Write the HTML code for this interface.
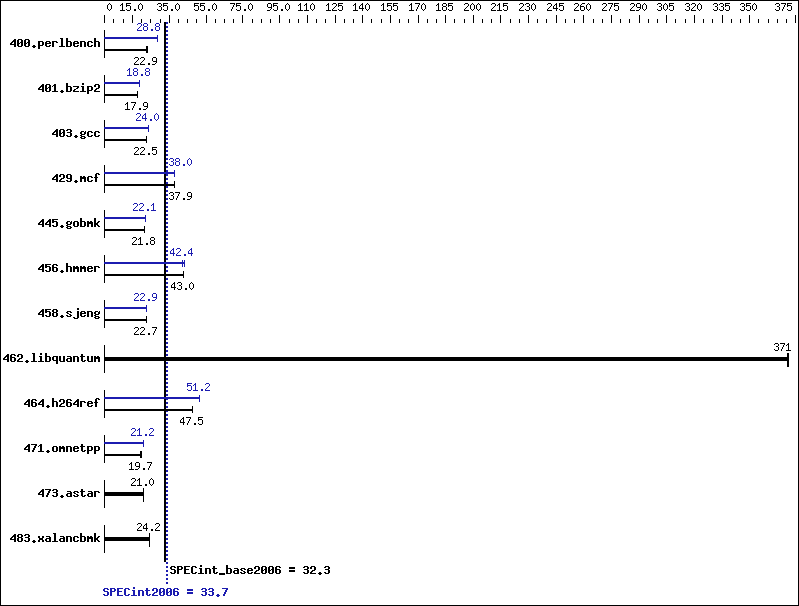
<!DOCTYPE html>
<html><head><meta charset="utf-8"><style>html,body{margin:0;padding:0;background:#fff;}svg{display:block;}</style></head>
<body><svg width="799" height="606" viewBox="0 0 799 606" shape-rendering="crispEdges">
<rect width="799" height="606" fill="#fff"/>
<defs><path id="s48" d="M2 3h1v1h-1zM1 4h1v1h-1zM3 4h1v1h-1zM0 5h1v1h-1zM4 5h1v1h-1zM0 6h1v1h-1zM4 6h1v1h-1zM0 7h1v1h-1zM4 7h1v1h-1zM0 8h1v1h-1zM4 8h1v1h-1zM1 9h1v1h-1zM3 9h1v1h-1zM2 10h1v1h-1z"/><path id="s49" d="M2 3h1v1h-1zM1 4h2v1h-2zM0 5h1v1h-1zM2 5h1v1h-1zM2 6h1v1h-1zM2 7h1v1h-1zM2 8h1v1h-1zM2 9h1v1h-1zM0 10h5v1h-5z"/><path id="s53" d="M0 3h5v1h-5zM0 4h1v1h-1zM0 5h4v1h-4zM0 6h1v1h-1zM4 6h1v1h-1zM4 7h1v1h-1zM4 8h1v1h-1zM0 9h1v1h-1zM4 9h1v1h-1zM1 10h3v1h-3z"/><path id="s46" d="M2 9h2v1h-2zM2 10h2v1h-2z"/><path id="s51" d="M1 3h3v1h-3zM0 4h1v1h-1zM4 4h1v1h-1zM4 5h1v1h-1zM2 6h2v1h-2zM4 7h1v1h-1zM4 8h1v1h-1zM0 9h1v1h-1zM4 9h1v1h-1zM1 10h3v1h-3z"/><path id="s55" d="M0 3h5v1h-5zM4 4h1v1h-1zM3 5h1v1h-1zM3 6h1v1h-1zM2 7h1v1h-1zM2 8h1v1h-1zM1 9h1v1h-1zM1 10h1v1h-1z"/><path id="s57" d="M1 3h3v1h-3zM0 4h1v1h-1zM4 4h1v1h-1zM0 5h1v1h-1zM4 5h1v1h-1zM0 6h1v1h-1zM4 6h1v1h-1zM1 7h4v1h-4zM4 8h1v1h-1zM3 9h1v1h-1zM0 10h3v1h-3z"/><path id="s50" d="M1 3h3v1h-3zM0 4h1v1h-1zM4 4h1v1h-1zM4 5h1v1h-1zM3 6h1v1h-1zM2 7h1v1h-1zM1 8h1v1h-1zM0 9h1v1h-1zM0 10h5v1h-5z"/><path id="s52" d="M3 3h1v1h-1zM2 4h2v1h-2zM1 5h1v1h-1zM3 5h1v1h-1zM0 6h1v1h-1zM3 6h1v1h-1zM0 7h1v1h-1zM3 7h1v1h-1zM0 8h5v1h-5zM3 9h1v1h-1zM3 10h1v1h-1z"/><path id="s56" d="M1 3h3v1h-3zM0 4h1v1h-1zM4 4h1v1h-1zM0 5h1v1h-1zM4 5h1v1h-1zM1 6h3v1h-3zM0 7h1v1h-1zM4 7h1v1h-1zM0 8h1v1h-1zM4 8h1v1h-1zM0 9h1v1h-1zM4 9h1v1h-1zM1 10h3v1h-3z"/><path id="s54" d="M2 3h3v1h-3zM1 4h1v1h-1zM0 5h1v1h-1zM0 6h4v1h-4zM0 7h1v1h-1zM4 7h1v1h-1zM0 8h1v1h-1zM4 8h1v1h-1zM0 9h1v1h-1zM4 9h1v1h-1zM1 10h3v1h-3z"/><path id="b52" d="M4 3h2v1h-2zM3 4h3v1h-3zM2 5h4v1h-4zM1 6h2v1h-2zM4 6h2v1h-2zM0 7h2v1h-2zM4 7h2v1h-2zM0 8h6v1h-6zM4 9h2v1h-2zM4 10h2v1h-2z"/><path id="b48" d="M1 3h4v1h-4zM0 4h2v1h-2zM4 4h2v1h-2zM0 5h2v1h-2zM4 5h2v1h-2zM0 6h2v1h-2zM3 6h3v1h-3zM0 7h3v1h-3zM4 7h2v1h-2zM0 8h2v1h-2zM4 8h2v1h-2zM0 9h2v1h-2zM4 9h2v1h-2zM1 10h4v1h-4z"/><path id="b46" d="M2 9h2v1h-2zM1 10h4v1h-4zM2 11h2v1h-2z"/><path id="b112" d="M0 5h5v1h-5zM0 6h2v1h-2zM4 6h2v1h-2zM0 7h2v1h-2zM4 7h2v1h-2zM0 8h2v1h-2zM4 8h2v1h-2zM0 9h5v1h-5zM0 10h2v1h-2zM0 11h2v1h-2zM0 12h2v1h-2z"/><path id="b101" d="M1 5h4v1h-4zM0 6h2v1h-2zM4 6h2v1h-2zM0 7h6v1h-6zM0 8h2v1h-2zM0 9h2v1h-2zM4 9h2v1h-2zM1 10h4v1h-4z"/><path id="b114" d="M0 5h5v1h-5zM0 6h2v1h-2zM4 6h2v1h-2zM0 7h2v1h-2zM0 8h2v1h-2zM0 9h2v1h-2zM0 10h2v1h-2z"/><path id="b108" d="M1 2h3v1h-3zM2 3h2v1h-2zM2 4h2v1h-2zM2 5h2v1h-2zM2 6h2v1h-2zM2 7h2v1h-2zM2 8h2v1h-2zM2 9h2v1h-2zM0 10h6v1h-6z"/><path id="b98" d="M0 2h2v1h-2zM0 3h2v1h-2zM0 4h2v1h-2zM0 5h5v1h-5zM0 6h2v1h-2zM4 6h2v1h-2zM0 7h2v1h-2zM4 7h2v1h-2zM0 8h2v1h-2zM4 8h2v1h-2zM0 9h2v1h-2zM4 9h2v1h-2zM0 10h5v1h-5z"/><path id="b110" d="M0 5h5v1h-5zM0 6h2v1h-2zM4 6h2v1h-2zM0 7h2v1h-2zM4 7h2v1h-2zM0 8h2v1h-2zM4 8h2v1h-2zM0 9h2v1h-2zM4 9h2v1h-2zM0 10h2v1h-2zM4 10h2v1h-2z"/><path id="b99" d="M1 5h4v1h-4zM0 6h2v1h-2zM4 6h2v1h-2zM0 7h2v1h-2zM0 8h2v1h-2zM0 9h2v1h-2zM4 9h2v1h-2zM1 10h4v1h-4z"/><path id="b104" d="M0 2h2v1h-2zM0 3h2v1h-2zM0 4h2v1h-2zM0 5h5v1h-5zM0 6h2v1h-2zM4 6h2v1h-2zM0 7h2v1h-2zM4 7h2v1h-2zM0 8h2v1h-2zM4 8h2v1h-2zM0 9h2v1h-2zM4 9h2v1h-2zM0 10h2v1h-2zM4 10h2v1h-2z"/><path id="b49" d="M2 3h2v1h-2zM1 4h3v1h-3zM0 5h1v1h-1zM2 5h2v1h-2zM2 6h2v1h-2zM2 7h2v1h-2zM2 8h2v1h-2zM2 9h2v1h-2zM0 10h6v1h-6z"/><path id="b122" d="M0 5h6v1h-6zM4 6h2v1h-2zM3 7h2v1h-2zM1 8h2v1h-2zM0 9h2v1h-2zM0 10h6v1h-6z"/><path id="b105" d="M2 2h2v1h-2zM2 3h2v1h-2zM1 5h3v1h-3zM2 6h2v1h-2zM2 7h2v1h-2zM2 8h2v1h-2zM2 9h2v1h-2zM0 10h6v1h-6z"/><path id="b50" d="M1 3h4v1h-4zM0 4h2v1h-2zM4 4h2v1h-2zM0 5h2v1h-2zM4 5h2v1h-2zM4 6h2v1h-2zM2 7h3v1h-3zM1 8h2v1h-2zM0 9h2v1h-2zM0 10h6v1h-6z"/><path id="b51" d="M1 3h4v1h-4zM0 4h2v1h-2zM4 4h2v1h-2zM4 5h2v1h-2zM1 6h4v1h-4zM4 7h2v1h-2zM4 8h2v1h-2zM0 9h2v1h-2zM4 9h2v1h-2zM1 10h4v1h-4z"/><path id="b103" d="M1 5h3v1h-3zM5 5h1v1h-1zM0 6h2v1h-2zM4 6h2v1h-2zM0 7h2v1h-2zM4 7h2v1h-2zM1 8h4v1h-4zM0 9h2v1h-2zM1 10h4v1h-4zM0 11h2v1h-2zM4 11h2v1h-2zM1 12h4v1h-4z"/><path id="b57" d="M1 3h4v1h-4zM0 4h2v1h-2zM4 4h2v1h-2zM0 5h2v1h-2zM4 5h2v1h-2zM0 6h2v1h-2zM4 6h2v1h-2zM1 7h5v1h-5zM4 8h2v1h-2zM0 9h2v1h-2zM4 9h2v1h-2zM1 10h4v1h-4z"/><path id="b109" d="M0 5h2v1h-2zM3 5h2v1h-2zM0 6h6v1h-6zM0 7h6v1h-6zM0 8h2v1h-2zM4 8h2v1h-2zM0 9h2v1h-2zM4 9h2v1h-2zM0 10h2v1h-2zM4 10h2v1h-2z"/><path id="b102" d="M2 2h3v1h-3zM1 3h2v1h-2zM4 3h2v1h-2zM1 4h2v1h-2zM1 5h2v1h-2zM0 6h4v1h-4zM1 7h2v1h-2zM1 8h2v1h-2zM1 9h2v1h-2zM1 10h2v1h-2z"/><path id="b53" d="M0 3h6v1h-6zM0 4h2v1h-2zM0 5h5v1h-5zM0 6h2v1h-2zM4 6h2v1h-2zM4 7h2v1h-2zM4 8h2v1h-2zM0 9h2v1h-2zM4 9h2v1h-2zM1 10h4v1h-4z"/><path id="b111" d="M1 5h4v1h-4zM0 6h2v1h-2zM4 6h2v1h-2zM0 7h2v1h-2zM4 7h2v1h-2zM0 8h2v1h-2zM4 8h2v1h-2zM0 9h2v1h-2zM4 9h2v1h-2zM1 10h4v1h-4z"/><path id="b107" d="M0 2h2v1h-2zM0 3h2v1h-2zM0 4h2v1h-2zM0 5h2v1h-2zM4 5h2v1h-2zM0 6h2v1h-2zM3 6h2v1h-2zM0 7h4v1h-4zM0 8h4v1h-4zM0 9h2v1h-2zM3 9h2v1h-2zM0 10h2v1h-2zM4 10h2v1h-2z"/><path id="b54" d="M1 3h4v1h-4zM0 4h2v1h-2zM4 4h2v1h-2zM0 5h2v1h-2zM0 6h5v1h-5zM0 7h2v1h-2zM4 7h2v1h-2zM0 8h2v1h-2zM4 8h2v1h-2zM0 9h2v1h-2zM4 9h2v1h-2zM1 10h4v1h-4z"/><path id="b56" d="M1 3h4v1h-4zM0 4h2v1h-2zM4 4h2v1h-2zM0 5h2v1h-2zM4 5h2v1h-2zM1 6h4v1h-4zM0 7h2v1h-2zM4 7h2v1h-2zM0 8h2v1h-2zM4 8h2v1h-2zM0 9h2v1h-2zM4 9h2v1h-2zM1 10h4v1h-4z"/><path id="b115" d="M1 5h4v1h-4zM0 6h2v1h-2zM4 6h2v1h-2zM1 7h2v1h-2zM3 8h2v1h-2zM0 9h2v1h-2zM4 9h2v1h-2zM1 10h4v1h-4z"/><path id="b106" d="M4 2h2v1h-2zM4 3h2v1h-2zM4 5h2v1h-2zM4 6h2v1h-2zM4 7h2v1h-2zM4 8h2v1h-2zM4 9h2v1h-2zM4 10h2v1h-2zM0 11h2v1h-2zM4 11h2v1h-2zM1 12h4v1h-4z"/><path id="b113" d="M1 5h5v1h-5zM0 6h2v1h-2zM4 6h2v1h-2zM0 7h2v1h-2zM4 7h2v1h-2zM0 8h2v1h-2zM4 8h2v1h-2zM1 9h5v1h-5zM4 10h2v1h-2zM4 11h2v1h-2zM4 12h2v1h-2z"/><path id="b117" d="M0 5h2v1h-2zM4 5h2v1h-2zM0 6h2v1h-2zM4 6h2v1h-2zM0 7h2v1h-2zM4 7h2v1h-2zM0 8h2v1h-2zM4 8h2v1h-2zM0 9h2v1h-2zM4 9h2v1h-2zM1 10h5v1h-5z"/><path id="b97" d="M1 5h4v1h-4zM4 6h2v1h-2zM1 7h5v1h-5zM0 8h2v1h-2zM4 8h2v1h-2zM0 9h2v1h-2zM4 9h2v1h-2zM1 10h5v1h-5z"/><path id="b116" d="M1 3h2v1h-2zM1 4h2v1h-2zM0 5h5v1h-5zM1 6h2v1h-2zM1 7h2v1h-2zM1 8h2v1h-2zM1 9h2v1h-2zM4 9h2v1h-2zM2 10h3v1h-3z"/><path id="b55" d="M0 3h6v1h-6zM4 4h2v1h-2zM3 5h2v1h-2zM3 6h2v1h-2zM2 7h2v1h-2zM2 8h2v1h-2zM1 9h2v1h-2zM1 10h2v1h-2z"/><path id="b120" d="M0 5h2v1h-2zM4 5h2v1h-2zM0 6h2v1h-2zM4 6h2v1h-2zM1 7h4v1h-4zM1 8h4v1h-4zM0 9h2v1h-2zM4 9h2v1h-2zM0 10h2v1h-2zM4 10h2v1h-2z"/><path id="b83" d="M1 3h4v1h-4zM0 4h2v1h-2zM4 4h2v1h-2zM0 5h2v1h-2zM1 6h4v1h-4zM4 7h2v1h-2zM4 8h2v1h-2zM0 9h2v1h-2zM4 9h2v1h-2zM1 10h4v1h-4z"/><path id="b80" d="M0 3h5v1h-5zM0 4h2v1h-2zM4 4h2v1h-2zM0 5h2v1h-2zM4 5h2v1h-2zM0 6h5v1h-5zM0 7h2v1h-2zM0 8h2v1h-2zM0 9h2v1h-2zM0 10h2v1h-2z"/><path id="b69" d="M0 3h6v1h-6zM0 4h2v1h-2zM0 5h2v1h-2zM0 6h5v1h-5zM0 7h2v1h-2zM0 8h2v1h-2zM0 9h2v1h-2zM0 10h6v1h-6z"/><path id="b67" d="M1 3h4v1h-4zM0 4h2v1h-2zM4 4h2v1h-2zM0 5h2v1h-2zM0 6h2v1h-2zM0 7h2v1h-2zM0 8h2v1h-2zM0 9h2v1h-2zM4 9h2v1h-2zM1 10h4v1h-4z"/><path id="b95" d="M0 10h6v1h-6zM0 11h6v1h-6z"/><path id="b61" d="M0 4h6v1h-6zM0 5h6v1h-6zM0 7h6v1h-6zM0 8h6v1h-6z"/></defs>
<rect x="0" y="0" width="799" height="1" fill="#000"/><rect x="0" y="605" width="799" height="1" fill="#000"/><rect x="0" y="0" width="1" height="606" fill="#000"/><rect x="798" y="0" width="1" height="606" fill="#000"/><rect x="104" y="15" width="1" height="8" fill="#000"/><rect x="113" y="19" width="1" height="4" fill="#000"/><rect x="123" y="19" width="1" height="4" fill="#000"/><rect x="132" y="15" width="1" height="8" fill="#000"/><rect x="141" y="19" width="1" height="4" fill="#000"/><rect x="150" y="19" width="1" height="4" fill="#000"/><rect x="160" y="19" width="1" height="4" fill="#000"/><rect x="169" y="15" width="1" height="8" fill="#000"/><rect x="178" y="19" width="1" height="4" fill="#000"/><rect x="187" y="19" width="1" height="4" fill="#000"/><rect x="196" y="19" width="1" height="4" fill="#000"/><rect x="206" y="15" width="1" height="8" fill="#000"/><rect x="215" y="19" width="1" height="4" fill="#000"/><rect x="224" y="19" width="1" height="4" fill="#000"/><rect x="233" y="19" width="1" height="4" fill="#000"/><rect x="242" y="15" width="1" height="8" fill="#000"/><rect x="252" y="19" width="1" height="4" fill="#000"/><rect x="261" y="19" width="1" height="4" fill="#000"/><rect x="270" y="19" width="1" height="4" fill="#000"/><rect x="279" y="15" width="1" height="8" fill="#000"/><rect x="289" y="19" width="1" height="4" fill="#000"/><rect x="298" y="19" width="1" height="4" fill="#000"/><rect x="307" y="15" width="1" height="8" fill="#000"/><rect x="316" y="19" width="1" height="4" fill="#000"/><rect x="325" y="19" width="1" height="4" fill="#000"/><rect x="335" y="15" width="1" height="8" fill="#000"/><rect x="344" y="19" width="1" height="4" fill="#000"/><rect x="353" y="19" width="1" height="4" fill="#000"/><rect x="362" y="15" width="1" height="8" fill="#000"/><rect x="371" y="19" width="1" height="4" fill="#000"/><rect x="381" y="19" width="1" height="4" fill="#000"/><rect x="390" y="15" width="1" height="8" fill="#000"/><rect x="399" y="19" width="1" height="4" fill="#000"/><rect x="408" y="19" width="1" height="4" fill="#000"/><rect x="418" y="15" width="1" height="8" fill="#000"/><rect x="427" y="19" width="1" height="4" fill="#000"/><rect x="436" y="19" width="1" height="4" fill="#000"/><rect x="445" y="15" width="1" height="8" fill="#000"/><rect x="454" y="19" width="1" height="4" fill="#000"/><rect x="464" y="19" width="1" height="4" fill="#000"/><rect x="473" y="15" width="1" height="8" fill="#000"/><rect x="482" y="19" width="1" height="4" fill="#000"/><rect x="491" y="19" width="1" height="4" fill="#000"/><rect x="500" y="15" width="1" height="8" fill="#000"/><rect x="510" y="19" width="1" height="4" fill="#000"/><rect x="519" y="19" width="1" height="4" fill="#000"/><rect x="528" y="15" width="1" height="8" fill="#000"/><rect x="537" y="19" width="1" height="4" fill="#000"/><rect x="546" y="19" width="1" height="4" fill="#000"/><rect x="556" y="15" width="1" height="8" fill="#000"/><rect x="565" y="19" width="1" height="4" fill="#000"/><rect x="574" y="19" width="1" height="4" fill="#000"/><rect x="583" y="15" width="1" height="8" fill="#000"/><rect x="593" y="19" width="1" height="4" fill="#000"/><rect x="602" y="19" width="1" height="4" fill="#000"/><rect x="611" y="15" width="1" height="8" fill="#000"/><rect x="620" y="19" width="1" height="4" fill="#000"/><rect x="629" y="19" width="1" height="4" fill="#000"/><rect x="639" y="15" width="1" height="8" fill="#000"/><rect x="648" y="19" width="1" height="4" fill="#000"/><rect x="657" y="19" width="1" height="4" fill="#000"/><rect x="666" y="15" width="1" height="8" fill="#000"/><rect x="675" y="19" width="1" height="4" fill="#000"/><rect x="685" y="19" width="1" height="4" fill="#000"/><rect x="694" y="15" width="1" height="8" fill="#000"/><rect x="703" y="19" width="1" height="4" fill="#000"/><rect x="712" y="19" width="1" height="4" fill="#000"/><rect x="722" y="15" width="1" height="8" fill="#000"/><rect x="731" y="19" width="1" height="4" fill="#000"/><rect x="740" y="19" width="1" height="4" fill="#000"/><rect x="749" y="15" width="1" height="8" fill="#000"/><rect x="758" y="19" width="1" height="4" fill="#000"/><rect x="768" y="19" width="1" height="4" fill="#000"/><rect x="777" y="19" width="1" height="4" fill="#000"/><rect x="786" y="19" width="1" height="4" fill="#000"/><rect x="795" y="15" width="1" height="8" fill="#000"/><use href="#s48" x="107" y="0" fill="#000"/><use href="#s49" x="120" y="0" fill="#000"/><use href="#s53" x="126" y="0" fill="#000"/><use href="#s46" x="132" y="0" fill="#000"/><use href="#s48" x="138" y="0" fill="#000"/><use href="#s51" x="157" y="0" fill="#000"/><use href="#s53" x="163" y="0" fill="#000"/><use href="#s46" x="169" y="0" fill="#000"/><use href="#s48" x="175" y="0" fill="#000"/><use href="#s53" x="194" y="0" fill="#000"/><use href="#s53" x="200" y="0" fill="#000"/><use href="#s46" x="206" y="0" fill="#000"/><use href="#s48" x="212" y="0" fill="#000"/><use href="#s55" x="230" y="0" fill="#000"/><use href="#s53" x="236" y="0" fill="#000"/><use href="#s46" x="242" y="0" fill="#000"/><use href="#s48" x="248" y="0" fill="#000"/><use href="#s57" x="267" y="0" fill="#000"/><use href="#s53" x="273" y="0" fill="#000"/><use href="#s46" x="279" y="0" fill="#000"/><use href="#s48" x="285" y="0" fill="#000"/><use href="#s49" x="298" y="0" fill="#000"/><use href="#s49" x="304" y="0" fill="#000"/><use href="#s48" x="310" y="0" fill="#000"/><use href="#s49" x="326" y="0" fill="#000"/><use href="#s50" x="332" y="0" fill="#000"/><use href="#s53" x="338" y="0" fill="#000"/><use href="#s49" x="353" y="0" fill="#000"/><use href="#s52" x="359" y="0" fill="#000"/><use href="#s48" x="365" y="0" fill="#000"/><use href="#s49" x="381" y="0" fill="#000"/><use href="#s53" x="387" y="0" fill="#000"/><use href="#s53" x="393" y="0" fill="#000"/><use href="#s49" x="409" y="0" fill="#000"/><use href="#s55" x="415" y="0" fill="#000"/><use href="#s48" x="421" y="0" fill="#000"/><use href="#s49" x="436" y="0" fill="#000"/><use href="#s56" x="442" y="0" fill="#000"/><use href="#s53" x="448" y="0" fill="#000"/><use href="#s50" x="464" y="0" fill="#000"/><use href="#s48" x="470" y="0" fill="#000"/><use href="#s48" x="476" y="0" fill="#000"/><use href="#s50" x="491" y="0" fill="#000"/><use href="#s49" x="497" y="0" fill="#000"/><use href="#s53" x="503" y="0" fill="#000"/><use href="#s50" x="519" y="0" fill="#000"/><use href="#s51" x="525" y="0" fill="#000"/><use href="#s48" x="531" y="0" fill="#000"/><use href="#s50" x="547" y="0" fill="#000"/><use href="#s52" x="553" y="0" fill="#000"/><use href="#s53" x="559" y="0" fill="#000"/><use href="#s50" x="574" y="0" fill="#000"/><use href="#s54" x="580" y="0" fill="#000"/><use href="#s48" x="586" y="0" fill="#000"/><use href="#s50" x="602" y="0" fill="#000"/><use href="#s55" x="608" y="0" fill="#000"/><use href="#s53" x="614" y="0" fill="#000"/><use href="#s50" x="630" y="0" fill="#000"/><use href="#s57" x="636" y="0" fill="#000"/><use href="#s48" x="642" y="0" fill="#000"/><use href="#s51" x="657" y="0" fill="#000"/><use href="#s48" x="663" y="0" fill="#000"/><use href="#s53" x="669" y="0" fill="#000"/><use href="#s51" x="685" y="0" fill="#000"/><use href="#s50" x="691" y="0" fill="#000"/><use href="#s48" x="697" y="0" fill="#000"/><use href="#s51" x="713" y="0" fill="#000"/><use href="#s51" x="719" y="0" fill="#000"/><use href="#s53" x="725" y="0" fill="#000"/><use href="#s51" x="740" y="0" fill="#000"/><use href="#s53" x="746" y="0" fill="#000"/><use href="#s48" x="752" y="0" fill="#000"/><use href="#s51" x="775" y="0" fill="#000"/><use href="#s55" x="781" y="0" fill="#000"/><use href="#s53" x="787" y="0" fill="#000"/><rect x="166" y="22" width="2" height="2" fill="#1c1cb0"/><rect x="166" y="26" width="2" height="2" fill="#1c1cb0"/><rect x="166" y="30" width="2" height="2" fill="#1c1cb0"/><rect x="166" y="34" width="2" height="2" fill="#1c1cb0"/><rect x="166" y="38" width="2" height="2" fill="#1c1cb0"/><rect x="166" y="42" width="2" height="2" fill="#1c1cb0"/><rect x="166" y="46" width="2" height="2" fill="#1c1cb0"/><rect x="166" y="50" width="2" height="2" fill="#1c1cb0"/><rect x="166" y="54" width="2" height="2" fill="#1c1cb0"/><rect x="166" y="58" width="2" height="2" fill="#1c1cb0"/><rect x="166" y="62" width="2" height="2" fill="#1c1cb0"/><rect x="166" y="66" width="2" height="2" fill="#1c1cb0"/><rect x="166" y="70" width="2" height="2" fill="#1c1cb0"/><rect x="166" y="74" width="2" height="2" fill="#1c1cb0"/><rect x="166" y="78" width="2" height="2" fill="#1c1cb0"/><rect x="166" y="82" width="2" height="2" fill="#1c1cb0"/><rect x="166" y="86" width="2" height="2" fill="#1c1cb0"/><rect x="166" y="90" width="2" height="2" fill="#1c1cb0"/><rect x="166" y="94" width="2" height="2" fill="#1c1cb0"/><rect x="166" y="98" width="2" height="2" fill="#1c1cb0"/><rect x="166" y="102" width="2" height="2" fill="#1c1cb0"/><rect x="166" y="106" width="2" height="2" fill="#1c1cb0"/><rect x="166" y="110" width="2" height="2" fill="#1c1cb0"/><rect x="166" y="114" width="2" height="2" fill="#1c1cb0"/><rect x="166" y="118" width="2" height="2" fill="#1c1cb0"/><rect x="166" y="122" width="2" height="2" fill="#1c1cb0"/><rect x="166" y="126" width="2" height="2" fill="#1c1cb0"/><rect x="166" y="130" width="2" height="2" fill="#1c1cb0"/><rect x="166" y="134" width="2" height="2" fill="#1c1cb0"/><rect x="166" y="138" width="2" height="2" fill="#1c1cb0"/><rect x="166" y="142" width="2" height="2" fill="#1c1cb0"/><rect x="166" y="146" width="2" height="2" fill="#1c1cb0"/><rect x="166" y="150" width="2" height="2" fill="#1c1cb0"/><rect x="166" y="154" width="2" height="2" fill="#1c1cb0"/><rect x="166" y="158" width="2" height="2" fill="#1c1cb0"/><rect x="166" y="162" width="2" height="2" fill="#1c1cb0"/><rect x="166" y="166" width="2" height="2" fill="#1c1cb0"/><rect x="166" y="170" width="2" height="2" fill="#1c1cb0"/><rect x="166" y="174" width="2" height="2" fill="#1c1cb0"/><rect x="166" y="178" width="2" height="2" fill="#1c1cb0"/><rect x="166" y="182" width="2" height="2" fill="#1c1cb0"/><rect x="166" y="186" width="2" height="2" fill="#1c1cb0"/><rect x="166" y="190" width="2" height="2" fill="#1c1cb0"/><rect x="166" y="194" width="2" height="2" fill="#1c1cb0"/><rect x="166" y="198" width="2" height="2" fill="#1c1cb0"/><rect x="166" y="202" width="2" height="2" fill="#1c1cb0"/><rect x="166" y="206" width="2" height="2" fill="#1c1cb0"/><rect x="166" y="210" width="2" height="2" fill="#1c1cb0"/><rect x="166" y="214" width="2" height="2" fill="#1c1cb0"/><rect x="166" y="218" width="2" height="2" fill="#1c1cb0"/><rect x="166" y="222" width="2" height="2" fill="#1c1cb0"/><rect x="166" y="226" width="2" height="2" fill="#1c1cb0"/><rect x="166" y="230" width="2" height="2" fill="#1c1cb0"/><rect x="166" y="234" width="2" height="2" fill="#1c1cb0"/><rect x="166" y="238" width="2" height="2" fill="#1c1cb0"/><rect x="166" y="242" width="2" height="2" fill="#1c1cb0"/><rect x="166" y="246" width="2" height="2" fill="#1c1cb0"/><rect x="166" y="250" width="2" height="2" fill="#1c1cb0"/><rect x="166" y="254" width="2" height="2" fill="#1c1cb0"/><rect x="166" y="258" width="2" height="2" fill="#1c1cb0"/><rect x="166" y="262" width="2" height="2" fill="#1c1cb0"/><rect x="166" y="266" width="2" height="2" fill="#1c1cb0"/><rect x="166" y="270" width="2" height="2" fill="#1c1cb0"/><rect x="166" y="274" width="2" height="2" fill="#1c1cb0"/><rect x="166" y="278" width="2" height="2" fill="#1c1cb0"/><rect x="166" y="282" width="2" height="2" fill="#1c1cb0"/><rect x="166" y="286" width="2" height="2" fill="#1c1cb0"/><rect x="166" y="290" width="2" height="2" fill="#1c1cb0"/><rect x="166" y="294" width="2" height="2" fill="#1c1cb0"/><rect x="166" y="298" width="2" height="2" fill="#1c1cb0"/><rect x="166" y="302" width="2" height="2" fill="#1c1cb0"/><rect x="166" y="306" width="2" height="2" fill="#1c1cb0"/><rect x="166" y="310" width="2" height="2" fill="#1c1cb0"/><rect x="166" y="314" width="2" height="2" fill="#1c1cb0"/><rect x="166" y="318" width="2" height="2" fill="#1c1cb0"/><rect x="166" y="322" width="2" height="2" fill="#1c1cb0"/><rect x="166" y="326" width="2" height="2" fill="#1c1cb0"/><rect x="166" y="330" width="2" height="2" fill="#1c1cb0"/><rect x="166" y="334" width="2" height="2" fill="#1c1cb0"/><rect x="166" y="338" width="2" height="2" fill="#1c1cb0"/><rect x="166" y="342" width="2" height="2" fill="#1c1cb0"/><rect x="166" y="346" width="2" height="2" fill="#1c1cb0"/><rect x="166" y="350" width="2" height="2" fill="#1c1cb0"/><rect x="166" y="354" width="2" height="2" fill="#1c1cb0"/><rect x="166" y="358" width="2" height="2" fill="#1c1cb0"/><rect x="166" y="362" width="2" height="2" fill="#1c1cb0"/><rect x="166" y="366" width="2" height="2" fill="#1c1cb0"/><rect x="166" y="370" width="2" height="2" fill="#1c1cb0"/><rect x="166" y="374" width="2" height="2" fill="#1c1cb0"/><rect x="166" y="378" width="2" height="2" fill="#1c1cb0"/><rect x="166" y="382" width="2" height="2" fill="#1c1cb0"/><rect x="166" y="386" width="2" height="2" fill="#1c1cb0"/><rect x="166" y="390" width="2" height="2" fill="#1c1cb0"/><rect x="166" y="394" width="2" height="2" fill="#1c1cb0"/><rect x="166" y="398" width="2" height="2" fill="#1c1cb0"/><rect x="166" y="402" width="2" height="2" fill="#1c1cb0"/><rect x="166" y="406" width="2" height="2" fill="#1c1cb0"/><rect x="166" y="410" width="2" height="2" fill="#1c1cb0"/><rect x="166" y="414" width="2" height="2" fill="#1c1cb0"/><rect x="166" y="418" width="2" height="2" fill="#1c1cb0"/><rect x="166" y="422" width="2" height="2" fill="#1c1cb0"/><rect x="166" y="426" width="2" height="2" fill="#1c1cb0"/><rect x="166" y="430" width="2" height="2" fill="#1c1cb0"/><rect x="166" y="434" width="2" height="2" fill="#1c1cb0"/><rect x="166" y="438" width="2" height="2" fill="#1c1cb0"/><rect x="166" y="442" width="2" height="2" fill="#1c1cb0"/><rect x="166" y="446" width="2" height="2" fill="#1c1cb0"/><rect x="166" y="450" width="2" height="2" fill="#1c1cb0"/><rect x="166" y="454" width="2" height="2" fill="#1c1cb0"/><rect x="166" y="458" width="2" height="2" fill="#1c1cb0"/><rect x="166" y="462" width="2" height="2" fill="#1c1cb0"/><rect x="166" y="466" width="2" height="2" fill="#1c1cb0"/><rect x="166" y="470" width="2" height="2" fill="#1c1cb0"/><rect x="166" y="474" width="2" height="2" fill="#1c1cb0"/><rect x="166" y="478" width="2" height="2" fill="#1c1cb0"/><rect x="166" y="482" width="2" height="2" fill="#1c1cb0"/><rect x="166" y="486" width="2" height="2" fill="#1c1cb0"/><rect x="166" y="490" width="2" height="2" fill="#1c1cb0"/><rect x="166" y="494" width="2" height="2" fill="#1c1cb0"/><rect x="166" y="498" width="2" height="2" fill="#1c1cb0"/><rect x="166" y="502" width="2" height="2" fill="#1c1cb0"/><rect x="166" y="506" width="2" height="2" fill="#1c1cb0"/><rect x="166" y="510" width="2" height="2" fill="#1c1cb0"/><rect x="166" y="514" width="2" height="2" fill="#1c1cb0"/><rect x="166" y="518" width="2" height="2" fill="#1c1cb0"/><rect x="166" y="522" width="2" height="2" fill="#1c1cb0"/><rect x="166" y="526" width="2" height="2" fill="#1c1cb0"/><rect x="166" y="530" width="2" height="2" fill="#1c1cb0"/><rect x="166" y="534" width="2" height="2" fill="#1c1cb0"/><rect x="166" y="538" width="2" height="2" fill="#1c1cb0"/><rect x="166" y="542" width="2" height="2" fill="#1c1cb0"/><rect x="166" y="546" width="2" height="2" fill="#1c1cb0"/><rect x="166" y="550" width="2" height="2" fill="#1c1cb0"/><rect x="166" y="554" width="2" height="2" fill="#1c1cb0"/><rect x="166" y="558" width="2" height="2" fill="#1c1cb0"/><rect x="166" y="562" width="2" height="2" fill="#1c1cb0"/><rect x="166" y="566" width="2" height="2" fill="#1c1cb0"/><rect x="166" y="570" width="2" height="2" fill="#1c1cb0"/><rect x="166" y="574" width="2" height="2" fill="#1c1cb0"/><rect x="166" y="578" width="2" height="2" fill="#1c1cb0"/><rect x="166" y="582" width="2" height="2" fill="#1c1cb0"/><rect x="164" y="22" width="2" height="540" fill="#000"/><use href="#b52" x="10" y="36" fill="#000"/><use href="#b48" x="17" y="36" fill="#000"/><use href="#b48" x="24" y="36" fill="#000"/><use href="#b46" x="31" y="36" fill="#000"/><use href="#b112" x="38" y="36" fill="#000"/><use href="#b101" x="45" y="36" fill="#000"/><use href="#b114" x="52" y="36" fill="#000"/><use href="#b108" x="59" y="36" fill="#000"/><use href="#b98" x="66" y="36" fill="#000"/><use href="#b101" x="73" y="36" fill="#000"/><use href="#b110" x="80" y="36" fill="#000"/><use href="#b99" x="87" y="36" fill="#000"/><use href="#b104" x="94" y="36" fill="#000"/><rect x="104" y="30" width="1" height="28" fill="#000"/><rect x="104" y="37" width="53" height="2" fill="#1c1cb0"/><rect x="157" y="35" width="1" height="7" fill="#1c1cb0"/><use href="#s50" x="137" y="20" fill="#1c1cb0"/><use href="#s56" x="143" y="20" fill="#1c1cb0"/><use href="#s46" x="149" y="20" fill="#1c1cb0"/><use href="#s56" x="155" y="20" fill="#1c1cb0"/><rect x="104" y="49" width="43" height="2" fill="#000"/><rect x="146" y="46" width="1" height="7" fill="#000"/><rect x="147" y="46" width="1" height="7" fill="#000"/><use href="#s50" x="134" y="54" fill="#000"/><use href="#s50" x="140" y="54" fill="#000"/><use href="#s46" x="146" y="54" fill="#000"/><use href="#s57" x="152" y="54" fill="#000"/><use href="#b52" x="38" y="81" fill="#000"/><use href="#b48" x="45" y="81" fill="#000"/><use href="#b49" x="52" y="81" fill="#000"/><use href="#b46" x="59" y="81" fill="#000"/><use href="#b98" x="66" y="81" fill="#000"/><use href="#b122" x="73" y="81" fill="#000"/><use href="#b105" x="80" y="81" fill="#000"/><use href="#b112" x="87" y="81" fill="#000"/><use href="#b50" x="94" y="81" fill="#000"/><rect x="104" y="75" width="1" height="28" fill="#000"/><rect x="104" y="82" width="35" height="2" fill="#1c1cb0"/><rect x="139" y="80" width="1" height="7" fill="#1c1cb0"/><use href="#s49" x="127" y="65" fill="#1c1cb0"/><use href="#s56" x="133" y="65" fill="#1c1cb0"/><use href="#s46" x="139" y="65" fill="#1c1cb0"/><use href="#s56" x="145" y="65" fill="#1c1cb0"/><rect x="104" y="94" width="33" height="2" fill="#000"/><rect x="137" y="91" width="1" height="7" fill="#000"/><use href="#s49" x="125" y="99" fill="#000"/><use href="#s55" x="131" y="99" fill="#000"/><use href="#s46" x="137" y="99" fill="#000"/><use href="#s57" x="143" y="99" fill="#000"/><use href="#b52" x="52" y="126" fill="#000"/><use href="#b48" x="59" y="126" fill="#000"/><use href="#b51" x="66" y="126" fill="#000"/><use href="#b46" x="73" y="126" fill="#000"/><use href="#b103" x="80" y="126" fill="#000"/><use href="#b99" x="87" y="126" fill="#000"/><use href="#b99" x="94" y="126" fill="#000"/><rect x="104" y="120" width="1" height="28" fill="#000"/><rect x="104" y="127" width="44" height="2" fill="#1c1cb0"/><rect x="148" y="125" width="1" height="7" fill="#1c1cb0"/><use href="#s50" x="136" y="110" fill="#1c1cb0"/><use href="#s52" x="142" y="110" fill="#1c1cb0"/><use href="#s46" x="148" y="110" fill="#1c1cb0"/><use href="#s48" x="154" y="110" fill="#1c1cb0"/><rect x="104" y="139" width="42" height="2" fill="#000"/><rect x="146" y="136" width="1" height="7" fill="#000"/><use href="#s50" x="134" y="144" fill="#000"/><use href="#s50" x="140" y="144" fill="#000"/><use href="#s46" x="146" y="144" fill="#000"/><use href="#s53" x="152" y="144" fill="#000"/><use href="#b52" x="52" y="171" fill="#000"/><use href="#b50" x="59" y="171" fill="#000"/><use href="#b57" x="66" y="171" fill="#000"/><use href="#b46" x="73" y="171" fill="#000"/><use href="#b109" x="80" y="171" fill="#000"/><use href="#b99" x="87" y="171" fill="#000"/><use href="#b102" x="94" y="171" fill="#000"/><rect x="104" y="165" width="1" height="28" fill="#000"/><rect x="104" y="172" width="70" height="2" fill="#1c1cb0"/><rect x="174" y="170" width="1" height="7" fill="#1c1cb0"/><use href="#s51" x="169" y="155" fill="#1c1cb0"/><use href="#s56" x="175" y="155" fill="#1c1cb0"/><use href="#s46" x="181" y="155" fill="#1c1cb0"/><use href="#s48" x="187" y="155" fill="#1c1cb0"/><rect x="104" y="184" width="70" height="2" fill="#000"/><rect x="174" y="181" width="1" height="7" fill="#000"/><use href="#s51" x="169" y="189" fill="#000"/><use href="#s55" x="175" y="189" fill="#000"/><use href="#s46" x="181" y="189" fill="#000"/><use href="#s57" x="187" y="189" fill="#000"/><use href="#b52" x="38" y="216" fill="#000"/><use href="#b52" x="45" y="216" fill="#000"/><use href="#b53" x="52" y="216" fill="#000"/><use href="#b46" x="59" y="216" fill="#000"/><use href="#b103" x="66" y="216" fill="#000"/><use href="#b111" x="73" y="216" fill="#000"/><use href="#b98" x="80" y="216" fill="#000"/><use href="#b109" x="87" y="216" fill="#000"/><use href="#b107" x="94" y="216" fill="#000"/><rect x="104" y="210" width="1" height="28" fill="#000"/><rect x="104" y="217" width="41" height="2" fill="#1c1cb0"/><rect x="145" y="215" width="1" height="7" fill="#1c1cb0"/><use href="#s50" x="133" y="200" fill="#1c1cb0"/><use href="#s50" x="139" y="200" fill="#1c1cb0"/><use href="#s46" x="145" y="200" fill="#1c1cb0"/><use href="#s49" x="151" y="200" fill="#1c1cb0"/><rect x="104" y="229" width="40" height="2" fill="#000"/><rect x="144" y="226" width="1" height="7" fill="#000"/><use href="#s50" x="132" y="234" fill="#000"/><use href="#s49" x="138" y="234" fill="#000"/><use href="#s46" x="144" y="234" fill="#000"/><use href="#s56" x="150" y="234" fill="#000"/><use href="#b52" x="38" y="261" fill="#000"/><use href="#b53" x="45" y="261" fill="#000"/><use href="#b54" x="52" y="261" fill="#000"/><use href="#b46" x="59" y="261" fill="#000"/><use href="#b104" x="66" y="261" fill="#000"/><use href="#b109" x="73" y="261" fill="#000"/><use href="#b109" x="80" y="261" fill="#000"/><use href="#b101" x="87" y="261" fill="#000"/><use href="#b114" x="94" y="261" fill="#000"/><rect x="104" y="255" width="1" height="28" fill="#000"/><rect x="104" y="262" width="80" height="2" fill="#1c1cb0"/><rect x="182" y="260" width="1" height="7" fill="#1c1cb0"/><rect x="184" y="260" width="1" height="7" fill="#1c1cb0"/><use href="#s52" x="170" y="245" fill="#1c1cb0"/><use href="#s50" x="176" y="245" fill="#1c1cb0"/><use href="#s46" x="182" y="245" fill="#1c1cb0"/><use href="#s52" x="188" y="245" fill="#1c1cb0"/><rect x="104" y="274" width="79" height="2" fill="#000"/><rect x="183" y="271" width="1" height="7" fill="#000"/><use href="#s52" x="171" y="279" fill="#000"/><use href="#s51" x="177" y="279" fill="#000"/><use href="#s46" x="183" y="279" fill="#000"/><use href="#s48" x="189" y="279" fill="#000"/><use href="#b52" x="38" y="306" fill="#000"/><use href="#b53" x="45" y="306" fill="#000"/><use href="#b56" x="52" y="306" fill="#000"/><use href="#b46" x="59" y="306" fill="#000"/><use href="#b115" x="66" y="306" fill="#000"/><use href="#b106" x="73" y="306" fill="#000"/><use href="#b101" x="80" y="306" fill="#000"/><use href="#b110" x="87" y="306" fill="#000"/><use href="#b103" x="94" y="306" fill="#000"/><rect x="104" y="300" width="1" height="28" fill="#000"/><rect x="104" y="307" width="42" height="2" fill="#1c1cb0"/><rect x="146" y="305" width="1" height="7" fill="#1c1cb0"/><use href="#s50" x="134" y="290" fill="#1c1cb0"/><use href="#s50" x="140" y="290" fill="#1c1cb0"/><use href="#s46" x="146" y="290" fill="#1c1cb0"/><use href="#s57" x="152" y="290" fill="#1c1cb0"/><rect x="104" y="319" width="42" height="2" fill="#000"/><rect x="146" y="316" width="1" height="7" fill="#000"/><use href="#s50" x="134" y="324" fill="#000"/><use href="#s50" x="140" y="324" fill="#000"/><use href="#s46" x="146" y="324" fill="#000"/><use href="#s55" x="152" y="324" fill="#000"/><use href="#b52" x="3" y="351" fill="#000"/><use href="#b54" x="10" y="351" fill="#000"/><use href="#b50" x="17" y="351" fill="#000"/><use href="#b46" x="24" y="351" fill="#000"/><use href="#b108" x="31" y="351" fill="#000"/><use href="#b105" x="38" y="351" fill="#000"/><use href="#b98" x="45" y="351" fill="#000"/><use href="#b113" x="52" y="351" fill="#000"/><use href="#b117" x="59" y="351" fill="#000"/><use href="#b97" x="66" y="351" fill="#000"/><use href="#b110" x="73" y="351" fill="#000"/><use href="#b116" x="80" y="351" fill="#000"/><use href="#b117" x="87" y="351" fill="#000"/><use href="#b109" x="94" y="351" fill="#000"/><rect x="104" y="345" width="1" height="28" fill="#000"/><rect x="104" y="357" width="684" height="4" fill="#000"/><rect x="787" y="353" width="1" height="14" fill="#000"/><rect x="788" y="353" width="1" height="14" fill="#000"/><use href="#s51" x="774" y="340" fill="#000"/><use href="#s55" x="780" y="340" fill="#000"/><use href="#s49" x="786" y="340" fill="#000"/><use href="#b52" x="24" y="396" fill="#000"/><use href="#b54" x="31" y="396" fill="#000"/><use href="#b52" x="38" y="396" fill="#000"/><use href="#b46" x="45" y="396" fill="#000"/><use href="#b104" x="52" y="396" fill="#000"/><use href="#b50" x="59" y="396" fill="#000"/><use href="#b54" x="66" y="396" fill="#000"/><use href="#b52" x="73" y="396" fill="#000"/><use href="#b114" x="80" y="396" fill="#000"/><use href="#b101" x="87" y="396" fill="#000"/><use href="#b102" x="94" y="396" fill="#000"/><rect x="104" y="390" width="1" height="28" fill="#000"/><rect x="104" y="397" width="95" height="2" fill="#1c1cb0"/><rect x="199" y="395" width="1" height="7" fill="#1c1cb0"/><use href="#s53" x="187" y="380" fill="#1c1cb0"/><use href="#s49" x="193" y="380" fill="#1c1cb0"/><use href="#s46" x="199" y="380" fill="#1c1cb0"/><use href="#s50" x="205" y="380" fill="#1c1cb0"/><rect x="104" y="409" width="88" height="2" fill="#000"/><rect x="192" y="406" width="1" height="7" fill="#000"/><use href="#s52" x="180" y="414" fill="#000"/><use href="#s55" x="186" y="414" fill="#000"/><use href="#s46" x="192" y="414" fill="#000"/><use href="#s53" x="198" y="414" fill="#000"/><use href="#b52" x="24" y="441" fill="#000"/><use href="#b55" x="31" y="441" fill="#000"/><use href="#b49" x="38" y="441" fill="#000"/><use href="#b46" x="45" y="441" fill="#000"/><use href="#b111" x="52" y="441" fill="#000"/><use href="#b109" x="59" y="441" fill="#000"/><use href="#b110" x="66" y="441" fill="#000"/><use href="#b101" x="73" y="441" fill="#000"/><use href="#b116" x="80" y="441" fill="#000"/><use href="#b112" x="87" y="441" fill="#000"/><use href="#b112" x="94" y="441" fill="#000"/><rect x="104" y="435" width="1" height="28" fill="#000"/><rect x="104" y="442" width="39" height="2" fill="#1c1cb0"/><rect x="143" y="440" width="1" height="7" fill="#1c1cb0"/><use href="#s50" x="131" y="425" fill="#1c1cb0"/><use href="#s49" x="137" y="425" fill="#1c1cb0"/><use href="#s46" x="143" y="425" fill="#1c1cb0"/><use href="#s50" x="149" y="425" fill="#1c1cb0"/><rect x="104" y="454" width="37" height="2" fill="#000"/><rect x="140" y="451" width="1" height="7" fill="#000"/><rect x="141" y="451" width="1" height="7" fill="#000"/><use href="#s49" x="129" y="459" fill="#000"/><use href="#s57" x="135" y="459" fill="#000"/><use href="#s46" x="141" y="459" fill="#000"/><use href="#s55" x="147" y="459" fill="#000"/><use href="#b52" x="38" y="486" fill="#000"/><use href="#b55" x="45" y="486" fill="#000"/><use href="#b51" x="52" y="486" fill="#000"/><use href="#b46" x="59" y="486" fill="#000"/><use href="#b97" x="66" y="486" fill="#000"/><use href="#b115" x="73" y="486" fill="#000"/><use href="#b116" x="80" y="486" fill="#000"/><use href="#b97" x="87" y="486" fill="#000"/><use href="#b114" x="94" y="486" fill="#000"/><rect x="104" y="480" width="1" height="28" fill="#000"/><rect x="104" y="492" width="39" height="4" fill="#000"/><rect x="143" y="488" width="1" height="14" fill="#000"/><use href="#s50" x="131" y="475" fill="#000"/><use href="#s49" x="137" y="475" fill="#000"/><use href="#s46" x="143" y="475" fill="#000"/><use href="#s48" x="149" y="475" fill="#000"/><use href="#b52" x="10" y="531" fill="#000"/><use href="#b56" x="17" y="531" fill="#000"/><use href="#b51" x="24" y="531" fill="#000"/><use href="#b46" x="31" y="531" fill="#000"/><use href="#b120" x="38" y="531" fill="#000"/><use href="#b97" x="45" y="531" fill="#000"/><use href="#b108" x="52" y="531" fill="#000"/><use href="#b97" x="59" y="531" fill="#000"/><use href="#b110" x="66" y="531" fill="#000"/><use href="#b99" x="73" y="531" fill="#000"/><use href="#b98" x="80" y="531" fill="#000"/><use href="#b109" x="87" y="531" fill="#000"/><use href="#b107" x="94" y="531" fill="#000"/><rect x="104" y="525" width="1" height="28" fill="#000"/><rect x="104" y="537" width="45" height="4" fill="#000"/><rect x="149" y="533" width="1" height="14" fill="#000"/><use href="#s50" x="137" y="520" fill="#000"/><use href="#s52" x="143" y="520" fill="#000"/><use href="#s46" x="149" y="520" fill="#000"/><use href="#s50" x="155" y="520" fill="#000"/><use href="#b83" x="170" y="563" fill="#000"/><use href="#b80" x="177" y="563" fill="#000"/><use href="#b69" x="184" y="563" fill="#000"/><use href="#b67" x="191" y="563" fill="#000"/><use href="#b105" x="198" y="563" fill="#000"/><use href="#b110" x="205" y="563" fill="#000"/><use href="#b116" x="212" y="563" fill="#000"/><use href="#b95" x="219" y="563" fill="#000"/><use href="#b98" x="226" y="563" fill="#000"/><use href="#b97" x="233" y="563" fill="#000"/><use href="#b115" x="240" y="563" fill="#000"/><use href="#b101" x="247" y="563" fill="#000"/><use href="#b50" x="254" y="563" fill="#000"/><use href="#b48" x="261" y="563" fill="#000"/><use href="#b48" x="268" y="563" fill="#000"/><use href="#b54" x="275" y="563" fill="#000"/><use href="#b61" x="289" y="563" fill="#000"/><use href="#b51" x="303" y="563" fill="#000"/><use href="#b50" x="310" y="563" fill="#000"/><use href="#b46" x="317" y="563" fill="#000"/><use href="#b51" x="324" y="563" fill="#000"/><use href="#b83" x="103" y="585" fill="#1c1cb0"/><use href="#b80" x="110" y="585" fill="#1c1cb0"/><use href="#b69" x="117" y="585" fill="#1c1cb0"/><use href="#b67" x="124" y="585" fill="#1c1cb0"/><use href="#b105" x="131" y="585" fill="#1c1cb0"/><use href="#b110" x="138" y="585" fill="#1c1cb0"/><use href="#b116" x="145" y="585" fill="#1c1cb0"/><use href="#b50" x="152" y="585" fill="#1c1cb0"/><use href="#b48" x="159" y="585" fill="#1c1cb0"/><use href="#b48" x="166" y="585" fill="#1c1cb0"/><use href="#b54" x="173" y="585" fill="#1c1cb0"/><use href="#b61" x="187" y="585" fill="#1c1cb0"/><use href="#b51" x="201" y="585" fill="#1c1cb0"/><use href="#b51" x="208" y="585" fill="#1c1cb0"/><use href="#b46" x="215" y="585" fill="#1c1cb0"/><use href="#b55" x="222" y="585" fill="#1c1cb0"/>
</svg></body></html>
